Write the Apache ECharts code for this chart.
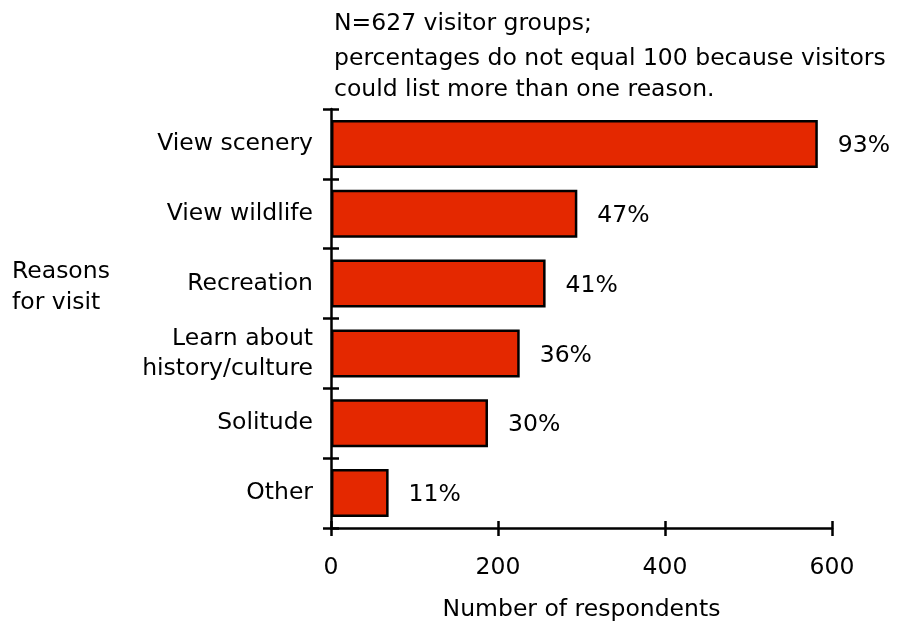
<!DOCTYPE html>
<html>
<head>
<meta charset="utf-8">
<script src="https://cdn.jsdelivr.net/npm/echarts@6/dist/echarts.min.js"></script>
<style>
  html, body { margin: 0; padding: 0; background: #fff; }
  #chart { width: 897px; height: 627px; }
</style>
</head>
<body>
<div id="chart"></div>
<script>
// Reasons for visit, top to bottom
const categories = ['View scenery', 'View wildlife', 'Recreation', 'Learn about\nhistory/culture', 'Solitude', 'Other'];
// Number of respondents per reason
const counts = [583, 295, 257, 226, 188, 69];
// Share of the 627 visitor groups
const percents = ['93%', '47%', '41%', '36%', '30%', '11%'];
const xTicks = [0, 200, 400, 600];

const FONT = 'DejaVu Sans';
const FS = 23.5;
const LW = 2.5;
const BAR_COLOR = '#e42800';

const chart = echarts.init(document.getElementById('chart'), null, { renderer: 'canvas' });

const grid = { left: 331, right: 65, top: 109, bottom: 98 };

const valueAxisBase = {
  type: 'value',
  min: xTicks[0],
  max: xTicks[xTicks.length - 1],
  interval: xTicks[1] - xTicks[0],
  splitLine: { show: false }
};

const categoryAxisBase = {
  type: 'category',
  data: categories.slice().reverse(),
  boundaryGap: true,
  splitLine: { show: false }
};

chart.setOption({
  animation: false,
  textStyle: { fontFamily: FONT },
  grid: grid,
  xAxis: [
    Object.assign({}, valueAxisBase, {
      position: 'bottom',
      name: 'Number of respondents',
      nameLocation: 'middle',
      nameGap: 70,
      nameTextStyle: { fontFamily: FONT, fontSize: FS, color: '#000' },
      axisLine: { show: true, lineStyle: { color: '#000', width: LW } },
      axisTick: { show: true, inside: false, length: 8, lineStyle: { color: '#000', width: LW } },
      axisLabel: { show: true, margin: 28, fontFamily: FONT, fontSize: FS, color: '#000' }
    }),
    // inner half of the crossing ticks
    Object.assign({}, valueAxisBase, {
      position: 'bottom',
      axisLine: { show: false },
      axisTick: { show: true, inside: true, length: 7, lineStyle: { color: '#000', width: LW } },
      axisLabel: { show: false }
    })
  ],
  yAxis: [
    Object.assign({}, categoryAxisBase, {
      position: 'left',
      axisLine: { show: true, lineStyle: { color: '#000', width: LW } },
      axisTick: { show: true, inside: false, alignWithLabel: false, length: 8, lineStyle: { color: '#000', width: LW } },
      axisLabel: { show: true, margin: 18, fontFamily: FONT, fontSize: FS, color: '#000', align: 'right', lineHeight: 30, padding: [5, 0, 0, 0] }
    }),
    Object.assign({}, categoryAxisBase, {
      position: 'left',
      axisLine: { show: false },
      axisTick: { show: true, inside: true, alignWithLabel: false, length: 8, lineStyle: { color: '#000', width: LW } },
      axisLabel: { show: false }
    })
  ],
  series: [{
    type: 'bar',
    xAxisIndex: 0,
    yAxisIndex: 0,
    data: counts.slice().reverse(),
    barWidth: 48,
    itemStyle: { color: BAR_COLOR, borderColor: '#000', borderWidth: LW },
    label: {
      show: true,
      position: 'right',
      distance: 20,
      offset: [0, 2],
      fontFamily: FONT,
      fontSize: FS,
      color: '#000',
      formatter: function (p) { return percents.slice().reverse()[p.dataIndex]; }
    }
  }],
  graphic: [
    {
      type: 'text', left: 334, top: 12,
      style: { text: 'N=627 visitor groups;', font: FS + 'px "' + FONT + '"', fill: '#000' }
    },
    {
      type: 'text', left: 334, top: 43,
      style: {
        text: 'percentages do not equal 100 because visitors\ncould list more than one reason.',
        font: FS + 'px "' + FONT + '"', lineHeight: 31, fill: '#000'
      }
    },
    {
      type: 'text', left: 12, top: 256,
      style: { text: 'Reasons\nfor visit', font: FS + 'px "' + FONT + '"', lineHeight: 31, fill: '#000' }
    }
  ]
});
</script>
</body>
</html>
